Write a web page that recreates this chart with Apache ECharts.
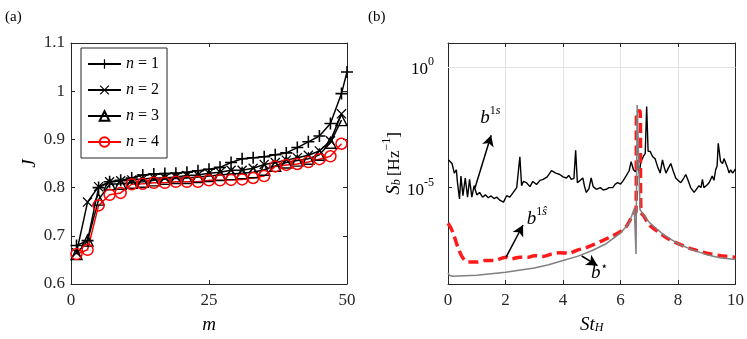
<!DOCTYPE html>
<html>
<head>
<meta charset="utf-8">
<script src="https://cdn.jsdelivr.net/npm/echarts@6/dist/echarts.min.js"></script>
<style>
html, body { margin: 0; padding: 0; background: #fff; }
#chart { width: 747px; height: 339px; }
</style>
</head>
<body>
<div id="chart"></div>
<script>
// ---- panel (a): J against m ----
const mOdd = [1,3,5,7,9,11,13,15,17,19,21,23,25,27,29,31,33,35,37,39,41,43,45,47,49];
const mN1 = mOdd.concat([50]);
const J1 = [0.680,0.690,0.800,0.812,0.815,0.820,0.826,0.828,0.829,0.830,0.832,0.835,0.838,0.842,0.852,0.860,0.862,0.864,0.868,0.872,0.883,0.895,0.907,0.933,0.995,1.040];
const J2 = [0.665,0.770,0.802,0.812,0.814,0.816,0.818,0.820,0.820,0.822,0.825,0.826,0.830,0.832,0.836,0.836,0.840,0.848,0.852,0.857,0.862,0.867,0.876,0.897,0.953];
const J3 = [0.662,0.690,0.775,0.807,0.808,0.810,0.812,0.815,0.818,0.820,0.820,0.822,0.824,0.826,0.828,0.830,0.832,0.837,0.845,0.852,0.856,0.860,0.868,0.893,0.940];
const J4 = [0.662,0.671,0.763,0.785,0.789,0.807,0.808,0.810,0.810,0.812,0.812,0.812,0.815,0.815,0.816,0.817,0.820,0.824,0.844,0.847,0.849,0.853,0.859,0.865,0.891];

// ---- panel (b): spectra S_b against St_H ----
const st1s = [0.02,0.14,0.22,0.29,0.33,0.40,0.45,0.52,0.60,0.68,0.75,0.83,0.91,1.00,1.10,1.20,1.30,1.40,1.50,1.60,1.70,1.80,1.93,2.04,2.15,2.27,2.39,2.45,2.50,2.56,2.62,2.73,2.85,2.95,3.08,3.20,3.31,3.45,3.60,3.75,3.89,4.00,4.12,4.20,4.29,4.38,4.44,4.50,4.60,4.69,4.75,4.81,4.90,4.98,5.05,5.16,5.30,5.40,5.50,5.60,5.73,5.82,5.90,6.00,6.10,6.19,6.30,6.37,6.45,6.52,6.58,6.65,6.71,6.80,6.86,6.91,6.96,7.03,7.12,7.20,7.29,7.38,7.46,7.52,7.58,7.66,7.75,7.83,7.92,8.00,8.10,8.20,8.27,8.35,8.44,8.56,8.65,8.73,8.80,8.85,8.90,9.00,9.08,9.19,9.25,9.31,9.36,9.40,9.48,9.55,9.60,9.71,9.78,9.83,9.90,10.0];
const S1s = [1.4e-4,1.0e-4,4.0e-5,5.5e-5,1.6e-5,3.4e-6,3.0e-5,4.6e-6,2.5e-5,4.0e-6,2.2e-5,4.0e-6,1.2e-5,5.0e-6,6.3e-6,4.0e-6,5.0e-6,3.8e-6,4.5e-6,3.5e-6,4.0e-6,3.0e-6,2.5e-6,4.6e-6,4.0e-6,6.3e-6,1.0e-5,8.9e-6,1.9e-4,1.2e-5,1.8e-5,1.6e-5,1.1e-5,1.8e-5,1.35e-5,2.0e-5,2.2e-5,2.8e-5,5.1e-5,4.0e-5,3.5e-5,2.8e-5,2.5e-5,3.2e-5,2.2e-5,2.4e-5,3.5e-4,1.6e-5,2.0e-5,2.5e-5,1.1e-5,6.3e-6,8.9e-6,2.5e-5,1.1e-5,8.5e-6,1.0e-5,7.9e-6,8.5e-6,1.0e-5,1.0e-5,1.4e-5,1.6e-5,1.4e-5,2.0e-5,3.0e-5,5.0e-5,1.2e-4,5.5e-5,4.5e-5,1.4e-4,4.0e-5,1.2e-4,2.0e-4,2.6e-4,2.3e-2,3.2e-4,3.2e-4,1.9e-4,1.6e-4,7.4e-5,4.0e-5,1.4e-4,7.1e-5,4.0e-5,6.3e-5,1.0e-4,5.0e-5,2.5e-5,2.0e-5,1.6e-5,2.5e-5,3.5e-5,2.0e-5,1.0e-5,6.3e-6,8.9e-6,1.2e-5,1.0e-5,2.2e-5,1.0e-5,1.25e-5,1.6e-5,3.0e-5,2.0e-5,5.5e-5,7.9e-5,6.9e-4,1.2e-4,1.0e-4,1.6e-4,7.4e-5,4.0e-5,5.5e-5,4.0e-5,5.9e-5];
const st1h = [0.00,0.10,0.20,0.35,0.50,0.70,1.00,1.30,1.60,2.00,2.20,2.50,2.80,3.00,3.30,3.60,3.90,4.20,4.50,4.80,5.10,5.40,5.70,6.00,6.20,6.40,6.54,6.56,6.68,6.71,6.83,7.00,7.30,7.60,8.00,8.50,9.00,9.50,10.0];
const S1h = [3.3e-7,2.1e-7,1.1e-7,3.2e-8,1.3e-8,8.1e-9,8.1e-9,9.5e-9,9.5e-9,1.3e-8,1.1e-8,1.3e-8,1.3e-8,1.5e-8,1.4e-8,1.75e-8,2.0e-8,1.9e-8,2.55e-8,3.2e-8,4.5e-8,6.5e-8,9.6e-8,1.5e-7,2.4e-7,6.2e-7,1.0e-6,1.5e-2,1.5e-2,1.0e-6,6.2e-7,2.8e-7,1.5e-7,8.3e-8,4.7e-8,2.8e-8,1.9e-8,1.5e-8,1.3e-8];
const stStar = [0.00,0.05,0.15,1.00,2.00,3.00,3.50,4.00,4.50,5.00,5.50,6.00,6.30,6.48,6.54,6.58,6.63,6.68,6.71,6.85,7.00,7.50,8.00,8.50,9.00,9.50,10.0];
const SStar = [2.9e-9,2.3e-9,2.1e-9,2.3e-9,3.1e-9,4.6e-9,6.3e-9,9.5e-9,1.4e-8,2.4e-8,4.7e-8,1.3e-7,3.3e-7,1.35e-6,1.75e-8,2.7e-2,2.7e-2,1.2e-6,1.0e-6,6.2e-7,3.6e-7,1.1e-7,4.7e-8,2.6e-8,1.65e-8,1.2e-8,1.05e-8];
const yTicksB = [1e-5, 1];

const serif = 'Liberation Serif';
const axisCol = '#262626';
const zip = (xs, ys) => xs.map((x, i) => [x, ys[i]]);

const plusPath = 'path://M0,4.35H10V5.65H0Z M4.35,0H5.65V10H4.35Z';
const crossPath = 'path://M0,0.9L0.9,0L10,9.1L9.1,10Z M9.1,0L10,0.9L0.9,10L0,9.1Z';

const rich = {
    i: { fontFamily: serif, fontStyle: 'italic', fontSize: 19, color: '#000', verticalAlign: 'bottom', lineHeight: 22 },
    r: { fontFamily: serif, fontSize: 17, color: '#000', verticalAlign: 'bottom', lineHeight: 22 },
    sup: { fontFamily: serif, fontSize: 12, color: '#000', verticalAlign: 'top', lineHeight: 22 },
    supi: { fontFamily: serif, fontStyle: 'italic', fontSize: 12, color: '#000', verticalAlign: 'top', lineHeight: 22 },
    star: { fontFamily: 'DejaVu Sans', fontSize: 12, color: '#000', verticalAlign: 'top', lineHeight: 22 },
    sub: { fontFamily: serif, fontStyle: 'italic', fontSize: 12, color: '#000', verticalAlign: 'bottom', lineHeight: 18 }
};

function boxAxis(type, grid, pos, extra) {
    return Object.assign({
        type: type, gridIndex: grid, position: pos,
        axisLine: { show: true, onZero: false, lineStyle: { color: axisCol, width: 1 } },
        axisTick: { show: true, inside: true, length: 4, lineStyle: { color: axisCol } },
        axisLabel: { show: false },
        splitLine: { show: false }
    }, extra);
}
const labelStyle = { color: '#262626', fontFamily: serif, fontSize: 17 };

const chart = echarts.init(document.getElementById('chart'));
const option = {
    animation: false,
    backgroundColor: '#fff',
    title: [
        { text: '(a)', left: 0, top: 5, textStyle: { fontFamily: serif, fontWeight: 'normal', fontSize: 15, color: '#000' } },
        { text: '(b)', left: 363, top: 5, textStyle: { fontFamily: serif, fontWeight: 'normal', fontSize: 15, color: '#000' } }
    ],
    grid: [
        { left: 71, right: 400, top: 43, bottom: 48 },
        { left: 448, right: 10, top: 43, bottom: 48 }
    ],
    legend: {
        data: ['n = 1', 'n = 2', 'n = 3', 'n = 4'],
        orient: 'vertical', left: 81, top: 48,
        itemWidth: 33, itemHeight: 12, itemGap: 10,
        padding: [8, 8, 8, 6],
        borderColor: axisCol, borderWidth: 1, backgroundColor: '#fff',
        formatter: name => name.replace('n', '{i|n}'),
        textStyle: { fontFamily: serif, fontSize: 16, color: '#000', lineHeight: 16,
            rich: { i: { fontFamily: serif, fontStyle: 'italic', fontSize: 16, color: '#000' } } }
    },
    xAxis: [
        boxAxis('value', 0, 'bottom', { min: 0, max: 50, interval: 25,
            axisLabel: Object.assign({ show: true, margin: 8 }, labelStyle),
            name: 'm', nameLocation: 'middle', nameGap: 31,
            nameTextStyle: { fontFamily: serif, fontStyle: 'italic', fontSize: 19, color: '#000' } }),
        boxAxis('value', 0, 'top', { min: 0, max: 50, interval: 25 }),
        boxAxis('value', 1, 'bottom', { min: 0, max: 10, interval: 2,
            axisLabel: Object.assign({ show: true, margin: 8 }, labelStyle),
            splitLine: { show: true, lineStyle: { color: '#e3e3e3', width: 1 } },
            name: '{i|St}{sub|H}', nameLocation: 'middle', nameGap: 28,
            nameTextStyle: { rich: rich } }),
        boxAxis('value', 1, 'top', { min: 0, max: 10, interval: 2 })
    ],
    yAxis: [
        boxAxis('value', 0, 'left', { min: 0.6, max: 1.1, interval: 0.1,
            axisLabel: Object.assign({ show: true, margin: 6, formatter: v => String(+v.toFixed(1)) }, labelStyle),
            name: 'J', nameLocation: 'middle', nameGap: 32,
            nameTextStyle: { fontFamily: serif, fontStyle: 'italic', fontSize: 19, color: '#000' } }),
        boxAxis('value', 0, 'right', { min: 0.6, max: 1.1, interval: 0.1 }),
        boxAxis('log', 1, 'left', { min: 1e-9, max: 10, logBase: 10,
            axisTick: { show: true, inside: true, length: 4, customValues: yTicksB, lineStyle: { color: axisCol } },
            axisLabel: { show: true, margin: 14, customValues: yTicksB,
                formatter: v => '{r|10}{sup|' + Math.round(Math.log10(v)) + '}', rich: rich },
            name: '{i|S}{sub|b} {r|[Hz}{sup|−1}{r|]}', nameLocation: 'middle', nameGap: 36,
            nameTextStyle: { rich: rich } }),
        boxAxis('log', 1, 'right', { min: 1e-9, max: 10, logBase: 10,
            axisTick: { show: true, inside: true, length: 4, customValues: yTicksB, lineStyle: { color: axisCol } } })
    ],
    series: [
        { name: 'n = 1', type: 'line', xAxisIndex: 0, yAxisIndex: 0, data: zip(mN1, J1),
          symbol: plusPath, symbolSize: 12, showAllSymbol: true,
          itemStyle: { color: '#000' }, lineStyle: { color: '#000', width: 1.5 } },
        { name: 'n = 2', type: 'line', xAxisIndex: 0, yAxisIndex: 0, data: zip(mOdd, J2),
          symbol: crossPath, symbolSize: 10, showAllSymbol: true,
          itemStyle: { color: '#000' }, lineStyle: { color: '#000', width: 1.5 } },
        { name: 'n = 3', type: 'line', xAxisIndex: 0, yAxisIndex: 0, data: zip(mOdd, J3),
          symbol: 'triangle', symbolSize: 11, showAllSymbol: true,
          itemStyle: { color: 'rgba(0,0,0,0)', borderColor: '#000', borderWidth: 1.4 },
          lineStyle: { color: '#000', width: 1.5 } },
        { name: 'n = 4', type: 'line', xAxisIndex: 0, yAxisIndex: 0, data: zip(mOdd, J4),
          symbol: 'circle', symbolSize: 11, showAllSymbol: true,
          itemStyle: { color: 'rgba(0,0,0,0)', borderColor: '#ff0000', borderWidth: 1.5 },
          lineStyle: { color: '#ff0000', width: 1.5 } },
        // horizontal grid lines of panel (b), only at labelled decades
        { type: 'line', xAxisIndex: 2, yAxisIndex: 2, data: [], silent: true,
          markLine: { silent: true, symbol: ['none', 'none'], label: { show: false },
            lineStyle: { color: '#e3e3e3', width: 1, type: 'solid' },
            data: yTicksB.map(v => ({ yAxis: v })) } },
        { name: 'b1s', type: 'line', xAxisIndex: 2, yAxisIndex: 2, data: zip(st1s, S1s),
          showSymbol: false, lineStyle: { color: '#000', width: 1.4 } },
        { name: 'b1h', type: 'line', xAxisIndex: 2, yAxisIndex: 2, data: zip(st1h, S1h),
          showSymbol: false, smooth: 0.3, lineStyle: { color: '#ff1a1a', width: 3.5, type: [10, 5] } },
        { name: 'bstar', type: 'line', xAxisIndex: 2, yAxisIndex: 2, data: zip(stStar, SStar),
          showSymbol: false, lineStyle: { color: '#808080', width: 1.5 },
          markLine: { silent: true, symbol: ['none', 'arrow'], symbolSize: [9, 11], label: { show: false },
            lineStyle: { color: '#000', width: 1.5, type: 'solid' },
            data: [
                [{ coord: [0.94, 9.8e-6] }, { coord: [1.5, 1.5e-3] }],
                [{ coord: [2.02, 1.3e-8] }, { coord: [2.61, 2.8e-7] }],
                [{ coord: [4.65, 1.45e-8] }, { coord: [5.2, 5.8e-9] }]
            ] },
          markPoint: { silent: true, symbol: 'circle', symbolSize: 0,
            label: { show: true, position: 'inside', rich: rich },
            data: [
                { coord: [1.47, 9.3e-3], label: { formatter: '{i|b}{sup|1}{supi|s}' } },
                { coord: [3.09, 5.9e-7], label: { formatter: '{i|b}{sup|1}{supi|ŝ}' } },
                { coord: [5.27, 3.3e-9], label: { formatter: '{i|b}{star|⋆}' } }
            ] } }
    ]
};
chart.setOption(option);
</script>
</body>
</html>
